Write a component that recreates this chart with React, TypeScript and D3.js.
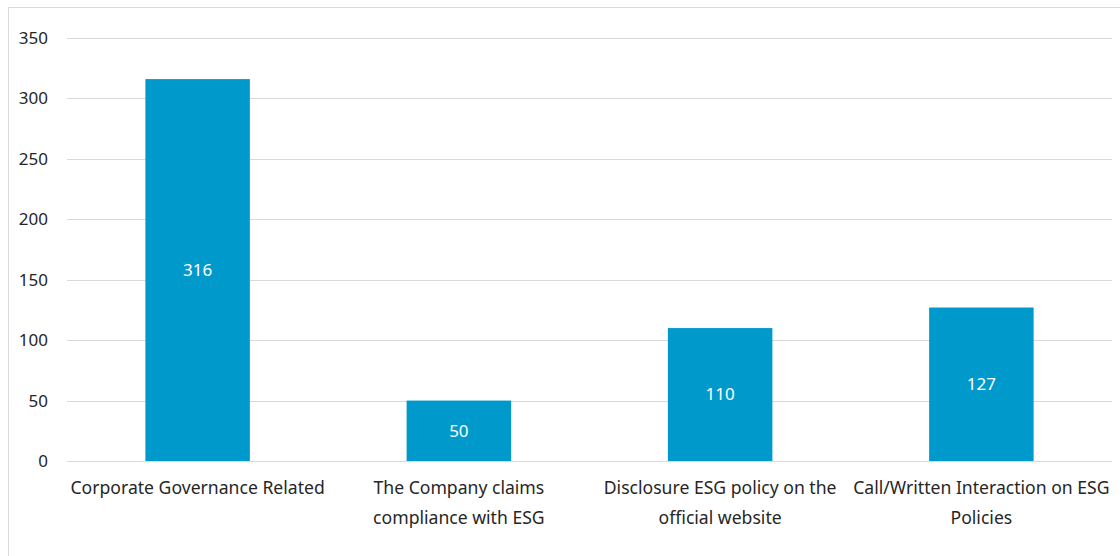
import React, { useEffect, useRef } from "react";
import * as d3 from "d3";

const categories = [
  ["Corporate Governance Related"],
  ["The Company claims", "compliance with ESG"],
  ["Disclosure ESG policy on the", "official website"],
  ["Call/Written Interaction on ESG", "Policies"],
];
const values = [316, 50, 110, 127];
const yTicks = [0, 50, 100, 150, 200, 250, 300, 350];

const W = 1120;
const H = 556;

const App = () => {
  const svgRef = useRef<SVGSVGElement | null>(null);

  useEffect(() => {
    const svg = d3.select(svgRef.current);
    svg.selectAll("*").remove();

    const margin = { top: 38, right: 8, bottom: 95, left: 67 };
    const innerW = W - margin.left - margin.right;
    const innerH = H - margin.top - margin.bottom;
    const font = "'Noto Sans', 'Open Sans', sans-serif";

    // outer frame
    svg.append("rect")
      .attr("x", 8.5)
      .attr("y", 7.5)
      .attr("width", W + 20)
      .attr("height", H + 20)
      .attr("fill", "none")
      .attr("stroke", "#d9d9d9");

    const keys = categories.map((_, i) => String(i));
    const x = d3.scaleBand().domain(keys).range([0, innerW]).paddingInner(0.6).paddingOuter(0.3);
    const y = d3.scaleLinear().domain([0, 350]).range([innerH, 0]);

    const g = svg.append("g").attr("transform", `translate(${margin.left},${margin.top})`);

    g.selectAll("line.grid")
      .data(yTicks)
      .join("line")
      .attr("class", "grid")
      .attr("x1", 0)
      .attr("x2", innerW)
      .attr("y1", (d) => Math.round(y(d)) + 0.5)
      .attr("y2", (d) => Math.round(y(d)) + 0.5)
      .attr("stroke", "#d9d9d9")
      .attr("stroke-width", 1);

    g.selectAll("text.ytick")
      .data(yTicks)
      .join("text")
      .attr("class", "ytick")
      .attr("x", -19)
      .attr("y", (d) => y(d))
      .attr("dy", "0.35em")
      .attr("text-anchor", "end")
      .attr("font-family", font)
      .attr("font-size", 17)
      .attr("fill", "#262626")
      .text((d) => d);

    g.selectAll("rect.bar")
      .data(values)
      .join("rect")
      .attr("class", "bar")
      .attr("x", (_, i) => x(keys[i]) as number)
      .attr("width", x.bandwidth())
      .attr("y", (d) => y(d))
      .attr("height", (d) => innerH - y(d))
      .attr("fill", "#0099cc");

    g.selectAll("text.val")
      .data(values)
      .join("text")
      .attr("class", "val")
      .attr("x", (_, i) => (x(keys[i]) as number) + x.bandwidth() / 2)
      .attr("y", (d) => (y(d) + innerH) / 2)
      .attr("dy", "0.35em")
      .attr("text-anchor", "middle")
      .attr("font-family", font)
      .attr("font-size", 17)
      .attr("fill", "#ffffff")
      .text((d) => d);

    const labels = g.selectAll("text.cat")
      .data(categories)
      .join("text")
      .attr("class", "cat")
      .attr("text-anchor", "middle")
      .attr("font-family", font)
      .attr("font-size", 17.6)
      .attr("fill", "#262626")
      .attr("transform", (_, i) => `translate(${(x(keys[i]) as number) + x.bandwidth() / 2},${innerH + 27})`);

    labels.selectAll("tspan")
      .data((d) => d)
      .join("tspan")
      .attr("x", 0)
      .attr("y", (_, j) => j * 30)
      .attr("dy", "0.35em")
      .text((d) => d);
  }, []);

  return (
    <div style={{ position: "fixed", left: 0, top: 0, width: W, height: H, background: "#fff" }}>
      <svg ref={svgRef} width={W} height={H} role="img" aria-label="ESG engagement bar chart" />
    </div>
  );
};

export default App;
